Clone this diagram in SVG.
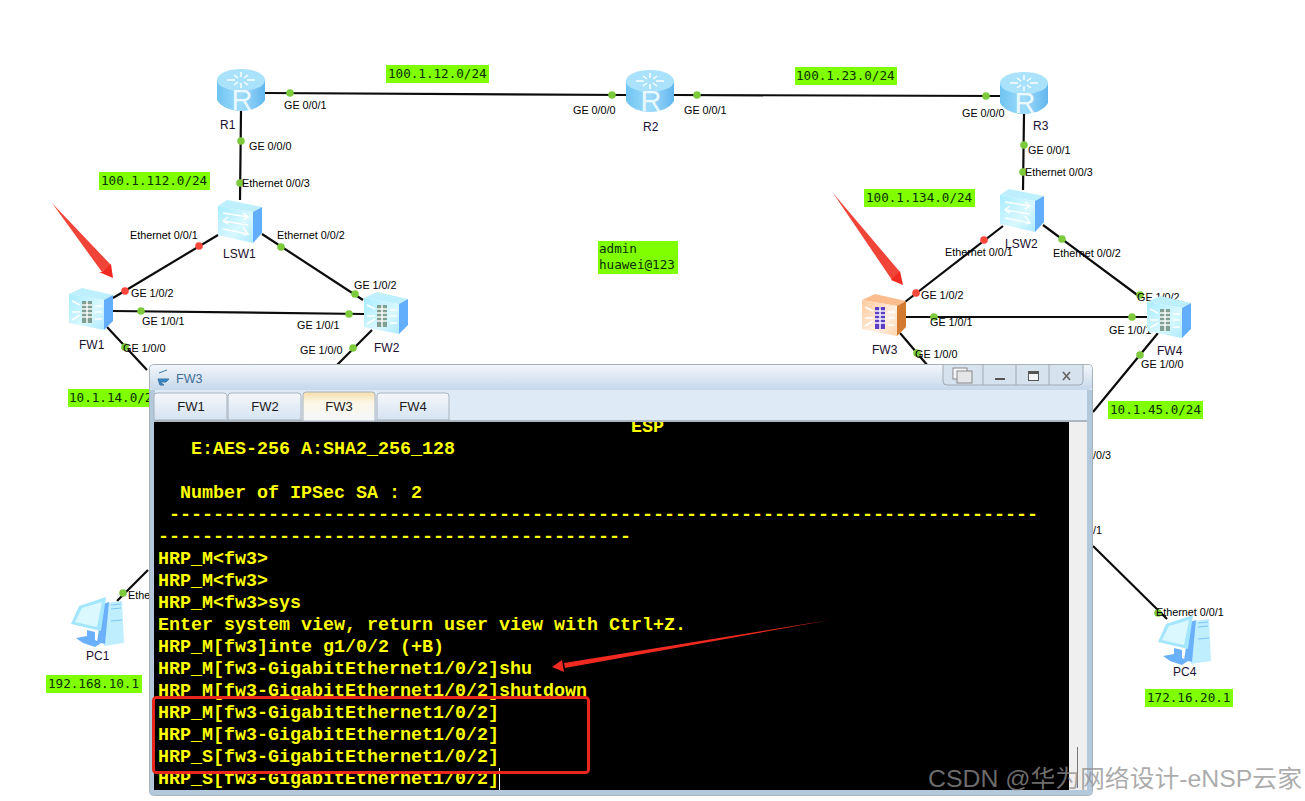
<svg xmlns="http://www.w3.org/2000/svg" width="1305" height="801" viewBox="0 0 1305 801">
<style>
.lbl{font-family:"Liberation Sans",Arial,sans-serif;font-size:10.8px;fill:#000}
.name{font-family:"Liberation Sans",Arial,sans-serif;font-size:12px;fill:#1a1030}
.note{font-family:"DejaVu Sans Mono",monospace;font-size:12.6px;fill:#0a3000}
.box{fill:#80ff00}
.link{stroke:#0c0c0c;stroke-width:2.2;fill:none}
.g{fill:#7dcb3c}
.r{fill:#f8483c}
.term{font-family:"Liberation Mono","Courier New",monospace;font-weight:bold;font-size:18.33px;fill:#ffff00}
.tab{font-family:"Liberation Sans",Arial,sans-serif;font-size:13px;fill:#1a1a1a;text-anchor:middle}
.wl{stroke:#fff;stroke-width:1.5;fill:none;opacity:.95}
</style>
<defs>
<linearGradient id="rBody" x1="0" x2="1" y1="0" y2="0"><stop offset="0" stop-color="#6fc4f2"/><stop offset=".5" stop-color="#9fdcfb"/><stop offset="1" stop-color="#62b6ee"/></linearGradient>
<linearGradient id="face" x1="0" x2="1" y1="0" y2="1"><stop offset="0" stop-color="#a9ecff"/><stop offset=".6" stop-color="#d8f8ff"/><stop offset="1" stop-color="#aeeaff"/></linearGradient>
<linearGradient id="faceO" x1="0" x2="1" y1="0" y2="1"><stop offset="0" stop-color="#ffc99c"/><stop offset=".6" stop-color="#fff0e0"/><stop offset="1" stop-color="#ffd3ac"/></linearGradient>
<linearGradient id="title" x1="0" x2="0" y1="0" y2="1"><stop offset="0" stop-color="#f2f6fb"/><stop offset="1" stop-color="#c6d8ea"/></linearGradient>
<linearGradient id="tabOn" x1="0" x2="0" y1="0" y2="1"><stop offset="0" stop-color="#f6dfa8"/><stop offset=".35" stop-color="#fbf6e6"/><stop offset="1" stop-color="#f4f8fc"/></linearGradient>
<linearGradient id="tabOff" x1="0" x2="0" y1="0" y2="1"><stop offset="0" stop-color="#f4f7fb"/><stop offset="1" stop-color="#d5e3f2"/></linearGradient>
<g id="router">
<path d="M0 11V31C4 38 14 42 24 42S44 38 48 31V11Z" fill="url(#rBody)"/>
<ellipse cx="24" cy="11" rx="24" ry="11" fill="#a9e2fa"/>
<path class="wl" d="M10 11h8M30 11h8M24 3v5M24 14v5M17 6l4 3M31 6l-4 3M17 16l4-3M31 16l-4-3"/>
<text x="25" y="41" text-anchor="middle" font-family="Liberation Sans,Arial,sans-serif" font-size="29" fill="#eaf9ff">R</text>
</g>
<g id="switch">
<polygon points="0,6 9,0 44,7 35,12" fill="#bdeffc"/>
<polygon points="0,6 35,12 35,43 0,35" fill="url(#face)"/>
<polygon points="35,12 44,7 44,33 35,43" fill="#63aefc"/>
<path class="wl" d="M5 13l25 4M5 21l25 4M5 29l25 5M25 13l5 4-5 3M10 17l-5 4 5 3M25 27l5 7-5 1"/>
</g>
<g id="fw">
<polygon points="0,6 13,0 44,7 35,12" fill="#bdeffc"/>
<polygon points="0,6 35,12 35,42 0,35" fill="url(#face)"/>
<polygon points="35,12 44,7 44,33 35,42" fill="#63aefc"/>
<rect x="13" y="13" width="10" height="22" fill="#7f9f92"/>
<path class="wl" d="M13 17h10M13 21h10M13 25h10M13 29h10M18 13v22M3 13l8 4M3 24h8M3 32l8-5M26 18h7M26 24h7M26 31h7"/>
</g>
<g id="fwO">
<polygon points="0,6 13,0 44,7 35,12" fill="#fbbd8e"/>
<polygon points="0,6 35,12 35,42 0,35" fill="url(#faceO)"/>
<polygon points="35,12 44,7 44,33 35,42" fill="#d27b30"/>
<rect x="13" y="13" width="10" height="22" fill="#5d3fc6"/>
<path class="wl" d="M13 17h10M13 21h10M13 25h10M13 29h10M18 13v22M3 13l8 4M3 24h8M3 32l8-5M26 18h7M26 24h7M26 31h7"/>
</g>
<g id="pc">
<polygon points="36,6 51,4 53,46 33,49" fill="#bfeeff"/>
<path d="M40 8l10-1M40 12l10-1M40 24l11-1" stroke="#7cc4f8" stroke-width="1"/>
<polygon points="32,7 38,5 34,47 26,45" fill="#6bb0fb"/>
<polygon points="8,9 35,0 30,34 0,27" fill="#a5e6ff"/>
<polygon points="11,11 31,5 26,30 4,25" fill="#dcf8ff"/>
<polygon points="16,33 24,35 24,43 16,42" fill="#6bb0fb"/>
<polygon points="5,41 16,39 30,46 24,50 12,46" fill="#6bb0fb"/>
</g>
</defs>
<rect width="1305" height="801" fill="#fff"/>

<g id="connectors">
<path class="link" d="M265 93L626 95M674 95L1000 96M241 111L240 200M218 235L113 298M262 234L363 300M113 311L364 314M107 327L147 370M372 330L336 366M1024 114L1023 190M1003 226L905 302M1043 225L1140 297M905 317L1147 317M900 333L928 366M1158 333L1093 412M1093 546L1167 619M148 570L117 601"/>
<g>
<circle class="g" cx="290" cy="93" r="3.8"/><circle class="g" cx="241" cy="141" r="3.8"/><circle class="g" cx="240" cy="183" r="3.8"/><circle class="r" cx="199" cy="246" r="3.8"/><circle class="r" cx="125" cy="291" r="3.8"/><circle class="g" cx="281" cy="247" r="3.8"/><circle class="g" cx="355" cy="294" r="3.8"/><circle class="g" cx="141" cy="311" r="3.8"/><circle class="g" cx="349" cy="314" r="3.8"/><circle class="g" cx="125" cy="347" r="3.8"/><circle class="g" cx="353" cy="348" r="3.8"/><circle class="g" cx="612" cy="95" r="3.8"/><circle class="g" cx="697" cy="95" r="3.8"/><circle class="g" cx="986" cy="96" r="3.8"/><circle class="g" cx="1024" cy="145" r="3.8"/><circle class="g" cx="1023" cy="172" r="3.8"/><circle class="r" cx="984" cy="240" r="3.8"/><circle class="g" cx="1062" cy="239" r="3.8"/><circle class="r" cx="916" cy="293" r="3.8"/><circle class="g" cx="1140" cy="295" r="3.8"/><circle class="g" cx="934" cy="317" r="3.8"/><circle class="g" cx="1132" cy="317" r="3.8"/><circle class="g" cx="917" cy="353" r="3.8"/><circle class="g" cx="1140" cy="355" r="3.8"/><circle class="g" cx="123" cy="593" r="3.8"/><circle class="g" cx="1158" cy="613" r="3.8"/>
</g>
<g>
<text class="lbl" x="284" y="109">GE 0/0/1</text><text class="lbl" x="249" y="150">GE 0/0/0</text><text class="lbl" x="242" y="187">Ethernet 0/0/3</text><text class="lbl" x="130" y="239">Ethernet 0/0/1</text><text class="lbl" x="277" y="239">Ethernet 0/0/2</text><text class="lbl" x="131" y="297">GE 1/0/2</text><text class="lbl" x="354" y="289">GE 1/0/2</text><text class="lbl" x="142" y="325">GE 1/0/1</text><text class="lbl" x="297" y="329">GE 1/0/1</text><text class="lbl" x="123" y="352">GE 1/0/0</text><text class="lbl" x="300" y="354">GE 1/0/0</text><text class="lbl" x="573" y="114">GE 0/0/0</text><text class="lbl" x="684" y="114">GE 0/0/1</text><text class="lbl" x="962" y="117">GE 0/0/0</text><text class="lbl" x="1028" y="154">GE 0/0/1</text><text class="lbl" x="1025" y="176">Ethernet 0/0/3</text><text class="lbl" x="945" y="256">Ethernet 0/0/1</text><text class="lbl" x="1053" y="257">Ethernet 0/0/2</text><text class="lbl" x="921" y="299">GE 1/0/2</text><text class="lbl" x="1137" y="301">GE 1/0/2</text><text class="lbl" x="930" y="326">GE 1/0/1</text><text class="lbl" x="1109" y="334">GE 1/0/1</text><text class="lbl" x="915" y="358">GE 1/0/0</text><text class="lbl" x="1141" y="368">GE 1/0/0</text><text class="lbl" x="1093" y="459">/0/3</text><text class="lbl" x="1093" y="534">/1</text><text class="lbl" x="128" y="599">Ethe</text><text class="lbl" x="1156" y="616">Ethernet 0/0/1</text>
</g>
</g>

<g id="R1"><use href="#router" x="217" y="69"/><text class="name" x="220" y="129">R1</text></g>
<g id="R2"><use href="#router" x="626" y="70"/><text class="name" x="643" y="131">R2</text></g>
<g id="R3"><use href="#router" x="1000" y="72"/><text class="name" x="1033" y="130">R3</text></g>
<g id="LSW1"><use href="#switch" x="218" y="200"/><text class="name" x="223" y="258">LSW1</text></g>
<g id="LSW2"><use href="#switch" x="1000" y="189"/><text class="name" x="1005" y="248">LSW2</text></g>
<g id="FW1"><use href="#fw" x="69" y="288"/><text class="name" x="79" y="349">FW1</text></g>
<g id="FW2"><use href="#fw" x="364" y="292"/><text class="name" x="374" y="352">FW2</text></g>
<g id="FW3"><use href="#fwO" x="862" y="294"/><text class="name" x="872" y="354">FW3</text></g>
<g id="FW4"><use href="#fw" x="1147" y="296"/><text class="name" x="1157" y="355">FW4</text></g>
<g id="PC1"><use href="#pc" x="71" y="597"/><text class="name" x="86" y="660">PC1</text></g>
<g id="PC4"><use href="#pc" x="1158" y="615"/><text class="name" x="1173" y="676">PC4</text></g>

<g id="notes">
<rect class="box" x="386" y="65" width="103" height="18"/><text class="note" x="388" y="78">100.1.12.0/24</text>
<rect class="box" x="795" y="67" width="102" height="18"/><text class="note" x="796" y="80">100.1.23.0/24</text>
<rect class="box" x="99" y="172" width="111" height="18"/><text class="note" x="101" y="185">100.1.112.0/24</text>
<rect class="box" x="864" y="189" width="111" height="18"/><text class="note" x="866" y="202">100.1.134.0/24</text>
<rect class="box" x="598" y="241" width="80" height="33"/><text class="note" x="599" y="253">admin</text><text class="note" x="599" y="269">huawei@123</text>
<rect class="box" x="68" y="389" width="84" height="18"/><text class="note" x="69" y="402">10.1.14.0/2</text>
<rect class="box" x="1108" y="401" width="95" height="18"/><text class="note" x="1110" y="414">10.1.45.0/24</text>
<rect class="box" x="46" y="675" width="96" height="18"/><text class="note" x="48" y="688">192.168.10.1</text>
<rect class="box" x="1145" y="689" width="88" height="18"/><text class="note" x="1147" y="702">172.16.20.1</text>
</g>

<g id="window">
<rect x="149.500" y="364.500" width="943" height="431" rx="4" fill="#dfeaf6" stroke="#a8b0b8"/>
<rect x="150" y="365" width="942" height="25" rx="4" fill="url(#title)"/>
<rect x="150" y="390" width="5" height="404" fill="#b4c8dc"/>
<rect x="1087" y="390" width="5" height="404" fill="#b4c8dc"/>
<rect x="155" y="390" width="932" height="32" fill="#dfeaf7"/>
<line x1="155" y1="421" x2="1087" y2="421" stroke="#9aa4ae" stroke-width="1.500"/>
<text x="176" y="383" font-family="Liberation Sans,Arial,sans-serif" font-size="12.500" fill="#3f6e96">FW3</text>
<path d="M159 373l8-3M158 379h11l-3 3h-6l4 3h-4z" fill="#3a86c4" stroke="#3a76a8"/>
<g>
<path d="M943 365V381Q943 385 947 385H1079Q1083 385 1083 381V365" fill="#d6e2ee" stroke="#a0aab4"/>
<path d="M983 365V385M1016 365V385M1049 365V385" stroke="#a0aab4"/>
<rect x="953" y="368" width="14" height="11" fill="#f4f6f8" stroke="#888"/><rect x="957" y="371" width="15" height="12" fill="#e4e6e8" stroke="#888"/>
<rect x="995" y="378" width="10" height="2" fill="#555"/>
<rect x="1028.500" y="371.500" width="10" height="9" fill="#f4f6f8" stroke="#555"/><rect x="1028" y="371" width="11" height="3" fill="#555"/>
<path d="M1063 372l7 8M1070 372l-7 8" stroke="#666" stroke-width="1.800"/>
</g>
<g>
<path d="M154 420V396Q154 393 157 393H224Q227 393 227 396V420Z" fill="url(#tabOff)" stroke="#a8b2bc"/>
<path d="M228 420V396Q228 393 231 393H298Q301 393 301 396V420Z" fill="url(#tabOff)" stroke="#a8b2bc"/>
<path d="M377 420V396Q377 393 380 393H446Q449 393 449 396V420Z" fill="url(#tabOff)" stroke="#a8b2bc"/>
<path d="M303 421V395Q303 392 306 392H372Q375 392 375 395V421Z" fill="url(#tabOn)" stroke="#a8b2bc"/>
<text class="tab" x="191" y="411">FW1</text><text class="tab" x="265" y="411">FW2</text><text class="tab" x="339" y="411">FW3</text><text class="tab" x="413" y="411">FW4</text>
</g>
<rect x="154" y="422" width="915" height="368" fill="#000"/>
<rect x="1069" y="422" width="18" height="368" fill="#efefef"/>
<line x1="1077.500" y1="747" x2="1077.500" y2="788" stroke="#777"/>
<rect x="150" y="790" width="942" height="5" fill="#b4c8dc"/>
<clipPath id="tc"><rect x="154" y="422" width="915" height="368"/></clipPath>
<g clip-path="url(#tc)">
<text class="term" x="631" y="432">ESP</text>
<text class="term" x="191" y="454">E:AES-256 A:SHA2_256_128</text>
<text class="term" x="180" y="498">Number of IPSec SA : 2</text>
<text class="term" x="169" y="520">-------------------------------------------------------------------------------</text>
<text class="term" x="158" y="542">-------------------------------------------</text>
<text class="term" x="158" y="564">HRP_M&lt;fw3&gt;</text>
<text class="term" x="158" y="586">HRP_M&lt;fw3&gt;</text>
<text class="term" x="158" y="608">HRP_M&lt;fw3&gt;sys</text>
<text class="term" x="158" y="630">Enter system view, return user view with Ctrl+Z.</text>
<text class="term" x="158" y="652">HRP_M[fw3]inte g1/0/2 (+B)</text>
<text class="term" x="158" y="674">HRP_M[fw3-GigabitEthernet1/0/2]shu</text>
<text class="term" x="158" y="696">HRP_M[fw3-GigabitEthernet1/0/2]shutdown</text>
<text class="term" x="158" y="718">HRP_M[fw3-GigabitEthernet1/0/2]</text>
<text class="term" x="158" y="740">HRP_M[fw3-GigabitEthernet1/0/2]</text>
<text class="term" x="158" y="762">HRP_S[fw3-GigabitEthernet1/0/2]</text>
<text class="term" x="158" y="784">HRP_S[fw3-GigabitEthernet1/0/2]</text>
<line x1="499.500" y1="768" x2="499.500" y2="790" stroke="#fff"/>
</g>
</g>

<g id="annotations">
<polygon points="52,203 111,265 102,272" fill="#f03a2e" opacity=".95"/><polygon points="113,278 111,264 102,272 99,272" fill="#f02a20"/>
<polygon points="833,193 900,272 892,280" fill="#f03a2e" opacity=".95"/><polygon points="903,285 900,271 891,280" fill="#f02a20"/>
<polygon points="830,620 564,663 565,668" fill="#f02a20"/><polygon points="552,667 562,660 564,672" fill="#f02a20"/>
<rect x="153.500" y="697.500" width="435" height="75" rx="3" fill="none" stroke="#e8261c" stroke-width="3"/>
</g>
<text x="928" y="787" font-family="Liberation Sans,Noto Sans CJK SC,sans-serif" font-size="24" fill="#909090" fill-opacity=".75" textLength="374" lengthAdjust="spacingAndGlyphs">CSDN @华为网络设计-eNSP云家</text>
</svg>
